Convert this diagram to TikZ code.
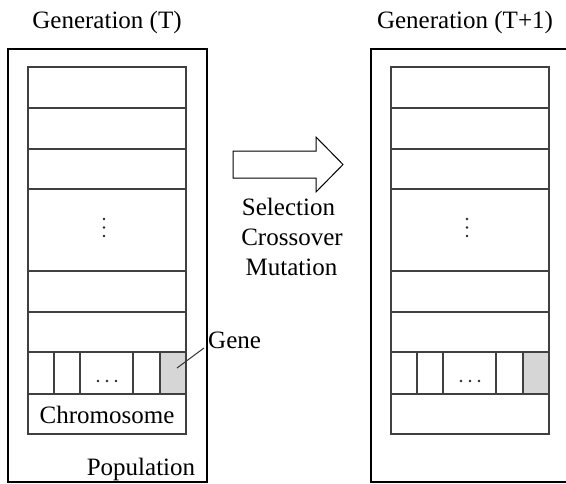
\documentclass[tikz,border=0pt]{standalone}
\usepackage{fontspec}
\setmainfont{Liberation Serif}
\begin{document}
\begin{tikzpicture}[x=1pt,y=-1pt,
  outerbox/.style={draw=black,line width=1.4pt},
  rowline/.style={draw=black!75,line width=1.1pt},
  genefill/.style={fill=black!16},
  lbl/.style={inner sep=0pt,font=\fontsize{25}{30}\selectfont},
  dotmark/.style={fill=black!85,circle,inner sep=0pt,minimum size=2.6pt}]
\useasboundingbox (0,0) rectangle (566,483);

% left population outer box
\draw[outerbox] (8,49) rectangle (207,482);
% right population outer box (cut by the picture edge)
\draw[outerbox] (570,49) -- (371,49) -- (371,482) -- (570,482);

\foreach \ox in {0,363}{
  \begin{scope}[xshift=\ox pt]
    \fill[genefill] (160,352) rectangle (186,394);
    \draw[rowline] (28,67) rectangle (186,434);
    \foreach \yy in {108,149,189,271,312,352,394}
      \draw[rowline] (28,\yy) -- (186,\yy);
    \foreach \xx in {54,80,133,160}
      \draw[rowline] (\xx,352) -- (\xx,394);
    \foreach \yy in {219,227.5,236}
      \node[dotmark] at (104,\yy) {};
    \foreach \xx in {98,107,116}
      \node[dotmark] at (\xx,381) {};
  \end{scope}
}

% arrow
\draw[line width=1pt,fill=white] (233,151) -- (316,151) -- (316,137) -- (343,164.5)
  -- (316,192) -- (316,178) -- (233,178) -- cycle;

% labels
\node[lbl,anchor=base] (genT) at (107,28) {Generation (T)};
\node[lbl,anchor=base] (genT1) at (465,28) {Generation (T+1)};
\node[lbl,anchor=base] (sel) at (288.5,215) {Selection};
\node[lbl,anchor=base] (cro) at (292,245) {Crossover};
\node[lbl,anchor=base] (mut) at (291.5,275) {Mutation};
\node[lbl,anchor=base] (chrom) at (107,423) {Chromosome};
\node[lbl,anchor=base] (pop) at (141,475) {Population};
\node[lbl,anchor=base west] (gene) at (208,348) {Gene};

\coordinate (genecell) at (177,368);
\draw[draw=black!80,line width=1pt] (genecell) -- ([xshift=-4pt]gene.base west);
\end{tikzpicture}
\end{document}
